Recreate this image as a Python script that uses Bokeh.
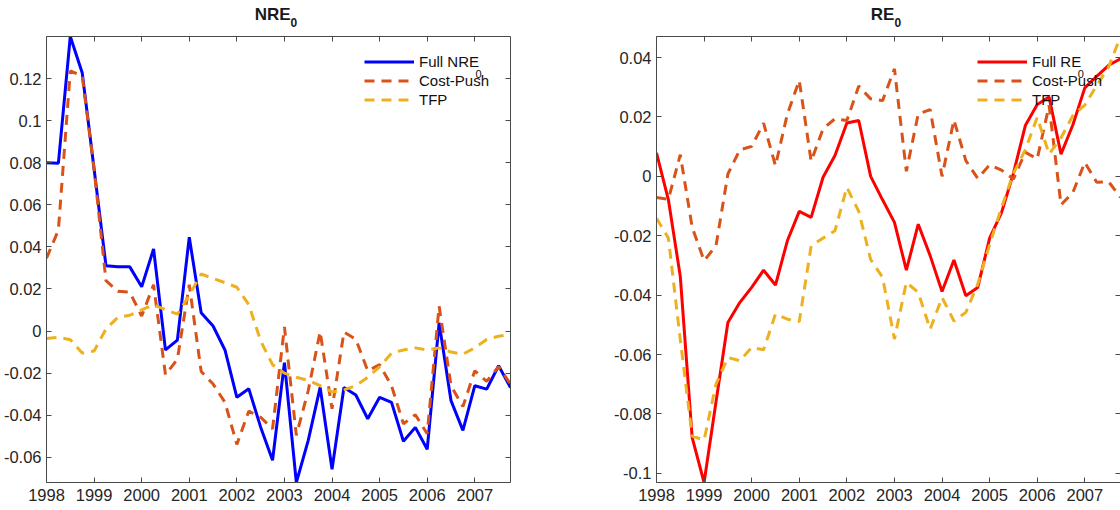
from bokeh.plotting import figure
from bokeh.layouts import row, column
from bokeh.models import Range1d, FixedTicker, LinearAxis, Legend, LegendItem, Label, Div
from bokeh.embed import file_html
from bokeh.resources import INLINE

# quarterly dates 1998Q1 .. 2007Q4
quarters = [1998 + 0.25 * i for i in range(40)]

# ---- NRE_0 panel ----
nre_full = [0.080, 0.0798, 0.140, 0.1228, 0.077, 0.031, 0.0305, 0.0305, 0.021, 0.039,
            -0.009, -0.0043, 0.0446, 0.0087, 0.0024, -0.009, -0.0315, -0.0274, -0.0457, -0.0614,
            -0.015, -0.072, -0.052, -0.0268, -0.0657, -0.0268, -0.0304, -0.0417, -0.0315, -0.0339,
            -0.0524, -0.0458, -0.0562, 0.0039, -0.0331, -0.0472, -0.026, -0.0276, -0.0165, -0.0268]
nre_cost = [0.0346, 0.048, 0.1236, 0.1213, 0.077, 0.0239, 0.0189, 0.0185, 0.0071, 0.022,
            -0.0208, -0.0134, 0.022, -0.0192, -0.0252, -0.0339, -0.0539, -0.0381, -0.041, -0.0465,
            0.0019, -0.0496, -0.0283, -0.0003, -0.037, -0.0005, -0.0039, -0.0189, -0.016, -0.026,
            -0.0441, -0.0398, -0.0488, 0.0118, -0.026, -0.0359, -0.0189, -0.0239, -0.0169, -0.0252]
nre_tfp = [-0.0035, -0.003, -0.0041, -0.0105, -0.0095, 0.001, 0.0065, 0.0075, 0.0101, 0.0125,
           0.0101, 0.008, 0.017, 0.0271, 0.025, 0.023, 0.0208, 0.0126, -0.0047, -0.016,
           -0.020, -0.022, -0.0235, -0.026, -0.029, -0.028, -0.026, -0.022, -0.017, -0.0105,
           -0.009, -0.008, -0.009, -0.008, -0.010, -0.011, -0.008, -0.004, -0.0025, -0.0015]

# ---- RE_0 panel ----
re_full = [0.0079, -0.0079, -0.0337, -0.088, -0.1031, -0.076, -0.0492, -0.0425, -0.0374, -0.0316,
           -0.0366, -0.0217, -0.0118, -0.0138, -0.0003, 0.007, 0.018, 0.0188, 0.0, -0.0079,
           -0.0155, -0.0316, -0.0161, -0.0267, -0.0388, -0.0282, -0.0402, -0.0374, -0.0208, -0.0122,
           0.001, 0.0171, 0.0242, 0.0267, 0.0075, 0.0174, 0.0298, 0.0337, 0.0374, 0.0396]
re_cost = [-0.0071, -0.0077, 0.0073, -0.0172, -0.0284, -0.0234, 0.0008, 0.0089, 0.0101, 0.0179,
           0.0036, 0.021, 0.0323, 0.0051, 0.016, 0.0194, 0.0188, 0.0304, 0.0261, 0.0255,
           0.0362, 0.0017, 0.021, 0.0225, 0.0, 0.019, 0.0053, -0.0007, 0.0039, 0.0021,
           -0.0009, 0.0081, 0.0059, 0.0239, -0.0096, -0.0054, 0.0047, -0.002, -0.0018, -0.0071]
re_tfp = [-0.0141, -0.0208, -0.055, -0.0875, -0.0888, -0.070, -0.061, -0.0621, -0.0576, -0.0584,
          -0.0464, -0.0481, -0.0489, -0.0234, -0.0208, -0.0183, -0.0037, -0.0118, -0.028, -0.034,
          -0.0548, -0.0357, -0.0391, -0.0515, -0.0408, -0.0487, -0.0458, -0.0363, -0.023, -0.0105,
          0.001, 0.0089, 0.0199, 0.0075, 0.013, 0.0205, 0.024, 0.0306, 0.0368, 0.0471]

year_ticks = [1998, 1999, 2000, 2001, 2002, 2003, 2004, 2005, 2006, 2007]
year_labels = ["1998", "1999", "2000", "2001", "2002", "2003", "2004", "2005", "2006", "2007"]
nre_ticks = [-0.06, -0.04, -0.02, 0.0, 0.02, 0.04, 0.06, 0.08, 0.1, 0.12]
nre_labels = ["-0.06", "-0.04", "-0.02", "0", "0.02", "0.04", "0.06", "0.08", "0.1", "0.12"]
re_ticks = [-0.1, -0.08, -0.06, -0.04, -0.02, 0.0, 0.02, 0.04]
re_labels = ["-0.1", "-0.08", "-0.06", "-0.04", "-0.02", "0", "0.02", "0.04"]

BLUE = "#0000ff"
RED = "#ff0000"
ORANGE = "#d95319"
YELLOW = "#edb120"
FONT = "Liberation Sans"
AXC = "#4a4a4a"
TXT = "#262626"
FW, FH = 464, 446
TITLE_H = 30

# Arial/Liberation Sans advance widths (em) for placing the legend subscript
W_REG = {"F": 0.611, "u": 0.556, "l": 0.222, " ": 0.278, "N": 0.722, "R": 0.722, "E": 0.667}


def text_w(s, table, size):
    return sum(table[c] for c in s) * size


def style_axis(ax, ticker, labels=None, show_labels=True, standoff=5):
    ax.ticker = FixedTicker(ticks=ticker)
    ax.minor_tick_line_color = None
    ax.major_tick_in = 5
    ax.major_tick_out = 0
    ax.axis_line_color = AXC
    ax.major_tick_line_color = AXC
    ax.axis_line_width = 1
    if show_labels:
        ax.major_label_overrides = {t: l for t, l in zip(ticker, labels)}
        ax.major_label_text_font = FONT
        ax.major_label_text_font_size = "16.5px"
        ax.major_label_text_color = TXT
        ax.major_label_standoff = standoff
    else:
        ax.major_label_text_font_size = "0px"
        ax.major_label_standoff = 0
        ax.major_label_text_color = None


def make_title(title, border_left):
    html = ('<div style="position:absolute;left:%dpx;top:0px;width:%dpx;text-align:center;'
            'font-family:\'Liberation Sans\';font-weight:bold;font-size:17px;line-height:17px;'
            'color:#1a1a1a;padding-top:6px;white-space:nowrap;">%s'
            '<span style="font-size:12px;position:relative;top:6.5px;">0</span></div>'
            % (border_left, FW, title))
    return Div(text=html, width=560, height=TITLE_H, margin=0,
               styles={"position": "relative", "overflow": "visible"})


def make_panel(full, cost, tfp, full_color, full_label, yticks, ylabels,
               border_left, border_right, legend_x):
    lo = min(min(full), min(cost), min(tfp))
    hi = max(max(full), max(cost), max(tfp))
    p = figure(frame_width=FW, frame_height=FH,
               x_range=Range1d(1998, 2007.75), y_range=Range1d(lo, hi),
               output_backend="svg", toolbar_location=None,
               min_border_left=border_left, min_border_right=border_right,
               min_border_top=36 - TITLE_H, min_border_bottom=28)
    p.outline_line_color = None
    p.xgrid.visible = False
    p.ygrid.visible = False
    p.background_fill_color = "white"
    p.border_fill_color = "white"

    style_axis(p.xaxis[0], year_ticks, year_labels, standoff=6)
    style_axis(p.yaxis[0], yticks, ylabels, standoff=5)
    top = LinearAxis()
    style_axis(top, year_ticks, show_labels=False)
    right = LinearAxis()
    style_axis(right, yticks, show_labels=False)
    p.add_layout(top, "above")
    p.add_layout(right, "right")

    r1 = p.line(quarters, full, line_color=full_color, line_width=3)
    r2 = p.line(quarters, cost, line_color=ORANGE, line_width=3, line_dash="10 7")
    r3 = p.line(quarters, tfp, line_color=YELLOW, line_width=3, line_dash="10 7")

    legend = Legend(items=[LegendItem(label=full_label, renderers=[r1]),
                           LegendItem(label="Cost-Push", renderers=[r2]),
                           LegendItem(label="TFP", renderers=[r3])],
                    location=(legend_x, FH - 16 - 57),
                    orientation="vertical",
                    background_fill_alpha=0, border_line_color=None,
                    glyph_width=50, glyph_height=19, label_height=19,
                    label_standoff=5, spacing=0, padding=0, margin=0,
                    label_text_font=FONT, label_text_font_size="15px",
                    label_text_color="#111111")
    p.add_layout(legend, "center")

    # legend subscript "0" after the first entry
    sub_x = legend_x + 51 + text_w(full_label, W_REG, 15)
    p.add_layout(Label(x=sub_x, y=FH - 37, x_units="screen", y_units="screen",
                       text="0", text_font=FONT, text_font_size="11px",
                       text_color="#111111", text_baseline="alphabetic",
                       text_align="left"))
    return p


p1 = make_panel(nre_full, nre_cost, nre_tfp, BLUE, "Full NRE",
                nre_ticks, nre_labels, 44, 52, 318)
p2 = make_panel(re_full, re_cost, re_tfp, RED, "Full RE",
                re_ticks, re_labels, 94, 2, 321)
t1 = make_title("NRE", 44)
t2 = make_title("RE", 94)

layout = column(row(t1, t2, spacing=0), row(p1, p2, spacing=0), spacing=0)
open("out.html", "w").write(file_html(layout, INLINE))
